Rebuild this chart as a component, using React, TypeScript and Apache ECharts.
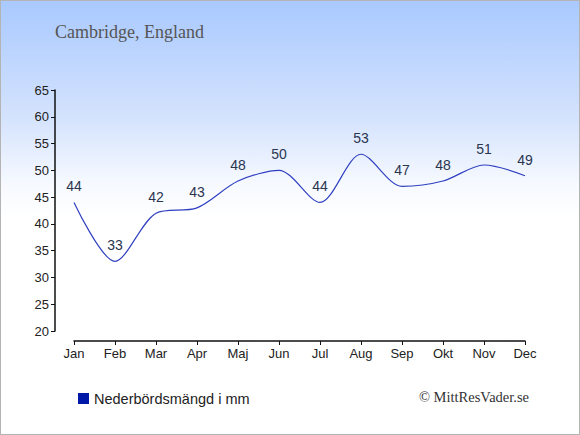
import React, { useEffect, useRef } from "react";
import * as echarts from "echarts";

const months = ["Jan", "Feb", "Mar", "Apr", "Maj", "Jun", "Jul", "Aug", "Sep", "Okt", "Nov", "Dec"];
const precipitation = [44, 33, 42, 43, 48, 50, 44, 53, 47, 48, 51, 49];
const yMin = 20;
const yMax = 65;
const yStep = 5;
const titleText = "Cambridge, England";
const legendText = "Nederbördsmängd i mm";
const creditText = "© MittResVader.se";

export default function App() {
  const ref = useRef<HTMLDivElement>(null);
  useEffect(() => {
    if (!ref.current) return;
    const chart = echarts.init(ref.current, null, { renderer: "svg" });
    chart.setOption({
      animation: false,
      backgroundColor: "transparent",
      title: {
        text: titleText,
        left: 50,
        top: 18,
        textStyle: { fontFamily: "Liberation Serif, Times New Roman, serif", fontWeight: "normal", fontSize: 18, color: "#555" },
      },
      legend: {
        show: true,
        left: 73,
        top: 386,
        icon: "rect",
        itemWidth: 11,
        itemHeight: 11,
        itemGap: 5,
        textStyle: { fontFamily: "Liberation Sans, Arial, sans-serif", fontSize: 14.5, color: "#222" },
        data: [{ name: legendText, itemStyle: { color: "#0018a8" } }],
      },
      graphic: [
        {
          type: "text",
          right: 51,
          top: 389,
          style: {
            text: creditText,
            font: "14.5px 'Liberation Serif', 'Times New Roman', serif",
            fill: "#333",
          },
        },
      ],
      grid: { left: 74, right: 55, top: 90, bottom: 104, containLabel: false },
      xAxis: {
        type: "category",
        data: months,
        boundaryGap: false,
        offset: 10,
        axisLine: { lineStyle: { color: "#111", width: 1.5 } },
        axisTick: { show: true, length: 4, alignWithLabel: true, lineStyle: { color: "#111" } },
        axisLabel: { color: "#222", fontSize: 13, fontFamily: "Liberation Sans, Arial, sans-serif", margin: 6 },
        splitLine: { show: false },
      },
      yAxis: {
        type: "value",
        min: yMin,
        max: yMax,
        interval: yStep,
        offset: 19,
        axisLine: { show: true, lineStyle: { color: "#111", width: 1.5 } },
        axisTick: { show: true, length: 4, lineStyle: { color: "#111" } },
        axisLabel: { color: "#222", fontSize: 13, fontFamily: "Liberation Sans, Arial, sans-serif", margin: 6 },
        splitLine: { show: false },
      },
      series: [
        {
          name: legendText,
          type: "line",
          data: precipitation,
          smooth: 0.3,
          symbol: "circle",
          symbolSize: 0,
          showSymbol: true,
          lineStyle: { color: "#3040c0", width: 1.2 },
          itemStyle: { color: "#0018a8" },
          label: {
            show: true,
            position: "top",
            distance: 9,
            color: "#2a3550",
            fontSize: 14,
            fontFamily: "Liberation Sans, Arial, sans-serif",
          },
        },
      ],
    });
    return () => chart.dispose();
  }, []);
  return (
    <div
      style={{
        position: "fixed",
        left: 0,
        top: 0,
        width: 580,
        height: 435,
        boxSizing: "border-box",
        border: "1px solid #b4b4b4",
        background: "linear-gradient(to bottom, #a9c9ff 0%, #d6e4fd 28%, #f6f9ff 42%, #ffffff 50%, #ffffff 100%)",
      }}
    >
      <div ref={ref} style={{ position: "absolute", left: -1, top: -1, width: 580, height: 435 }} />
    </div>
  );
}
